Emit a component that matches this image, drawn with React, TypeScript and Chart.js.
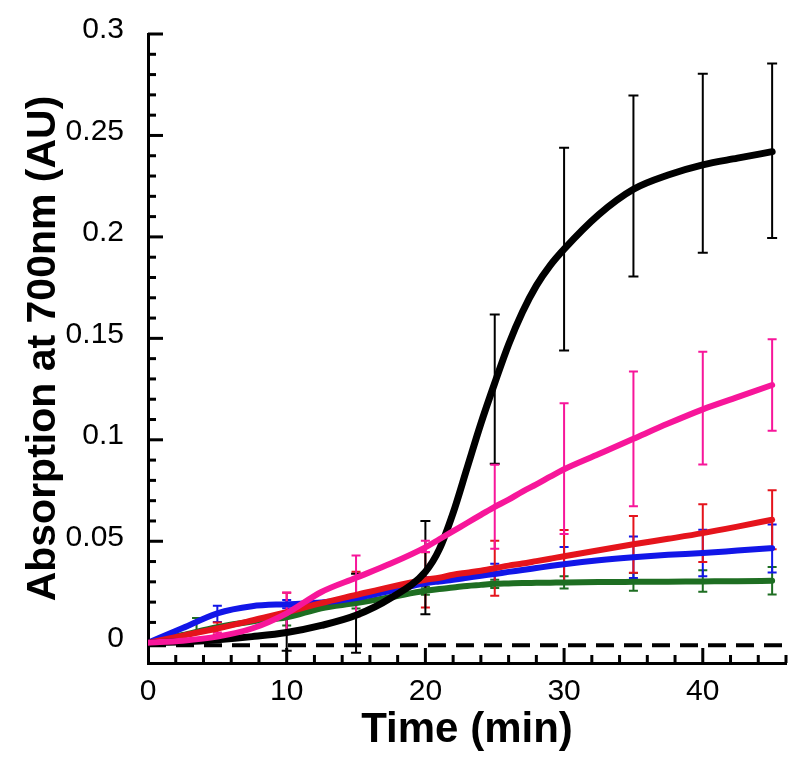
import React, { useEffect, useRef } from 'react';
import { Chart, registerables } from 'chart.js';

Chart.register(...registerables);

// ---- fitted curves ----
const fitTimes = [0, 2.5, 5, 7.5, 10, 12.5, 15, 17.5, 20, 21, 22, 23, 24, 25, 26, 27, 28, 29, 30, 32.5, 35, 37.5, 40, 42.5, 45];
const blackFit = [0, 0.0005, 0.0015, 0.003, 0.005, 0.0085, 0.0135, 0.022, 0.035, 0.046, 0.064, 0.086, 0.108, 0.128, 0.147, 0.163, 0.176, 0.186, 0.194, 0.211, 0.2235, 0.2305, 0.2355, 0.2388, 0.242];
const pinkFit = [0, 0.001, 0.003, 0.007, 0.0145, 0.025, 0.032, 0.039, 0.047, 0.051, 0.055, 0.059, 0.063, 0.067, 0.0705, 0.0745, 0.078, 0.0818, 0.0855, 0.093, 0.1005, 0.108, 0.115, 0.121, 0.127];
const redFit = [0, 0.0035, 0.007, 0.011, 0.015, 0.0195, 0.0235, 0.0275, 0.031, 0.032, 0.0335, 0.0345, 0.0355, 0.0367, 0.038, 0.039, 0.0402, 0.0414, 0.0426, 0.0456, 0.0485, 0.0512, 0.054, 0.0572, 0.0606];
const blueFit = [0, 0.0072, 0.0145, 0.018, 0.019, 0.0198, 0.022, 0.0256, 0.0293, 0.0302, 0.031, 0.032, 0.033, 0.0339, 0.0349, 0.0358, 0.0368, 0.0378, 0.0387, 0.0406, 0.0421, 0.0433, 0.0442, 0.0454, 0.0466];
const greenFit = [0, 0.0038, 0.0077, 0.0105, 0.0125, 0.017, 0.0195, 0.0225, 0.0256, 0.0265, 0.0272, 0.028, 0.0285, 0.029, 0.0292, 0.0294, 0.0295, 0.0296, 0.0297, 0.0299, 0.03, 0.0301, 0.0302, 0.0303, 0.0305];

// ---- measured points with error bars ----
const blackTimes = [10, 15, 20, 25, 30, 35, 40, 45];
const blackMeans = [0.005, 0.0145, 0.037, 0.125, 0.194, 0.2251, 0.2363, 0.2424];
const blackErrs = [0.009, 0.0195, 0.023, 0.0368, 0.05, 0.0446, 0.0441, 0.043];

const pinkTimes = [5, 10, 15, 20, 25, 30, 35, 40, 45];
const pinkMeans = [0.003, 0.015, 0.028, 0.0475, 0.067, 0.0858, 0.1005, 0.1156, 0.127];
const pinkErrs = [0.002, 0.0097, 0.015, 0.0028, 0.0207, 0.0322, 0.0332, 0.0278, 0.0225];

const redTimes = [5, 10, 15, 20, 25, 30, 35, 40, 45];
const redMeans = [0.007, 0.015, 0.024, 0.031, 0.0367, 0.0426, 0.0485, 0.054, 0.0606];
const redErrs = [0.003, 0.0096, 0.011, 0.0136, 0.0135, 0.013, 0.014, 0.0142, 0.0145];

const blueTimes = [5, 10, 15, 20, 25, 30, 35, 40, 45];
const blueMeans = [0.0142, 0.019, 0.022, 0.0293, 0.0339, 0.0387, 0.0421, 0.0442, 0.0464];
const blueErrs = [0.004, 0.002, 0.002, 0.003, 0.005, 0.0085, 0.0102, 0.0115, 0.0118];

const greenTimes = [3.5, 10, 15, 20, 25, 30, 35, 40, 45];
const greenMeans = [0.0087, 0.0115, 0.0195, 0.0256, 0.029, 0.0297, 0.03, 0.0304, 0.0305];
const greenErrs = [0.0035, 0.003, 0.0027, 0.002, 0.002, 0.003, 0.0044, 0.0053, 0.0068];

// ---- baseline and axis ticks ----
const baselineTimes = [0, 46];
const baselineValues = [-0.0012, -0.0012];
const xTickLabels = [0, 10, 20, 30, 40];
const yTickLabels = [0, 0.05, 0.1, 0.15, 0.2, 0.25, 0.3];

const BLACK = '#000000';
const PINK = '#f7169a';
const RED = '#e5141c';
const BLUE = '#1216e8';
const GREEN = '#1e6e22';
const FONT = '"Liberation Sans", Arial, Helvetica, sans-serif';

const toPoints = (xs: number[], ys: number[]) => xs.map((x, i) => ({ x, y: ys[i] }));

const errorSeries = [
  { color: GREEN, times: greenTimes, means: greenMeans, errs: greenErrs, width: 2, cap: 4.5 },
  { color: BLUE, times: blueTimes, means: blueMeans, errs: blueErrs, width: 2, cap: 4.5 },
  { color: RED, times: redTimes, means: redMeans, errs: redErrs, width: 2, cap: 4.5 },
  { color: BLACK, times: blackTimes, means: blackMeans, errs: blackErrs, width: 2, cap: 5 },
  { color: PINK, times: pinkTimes, means: pinkMeans, errs: pinkErrs, width: 2, cap: 4.5 },
];

const errorBarPlugin = {
  id: 'errorBars',
  beforeDatasetsDraw(chart: any) {
    const ctx = chart.ctx;
    const x = chart.scales.x;
    const y = chart.scales.y;
    ctx.save();
    for (const s of errorSeries) {
      ctx.strokeStyle = s.color;
      ctx.lineWidth = s.width;
      s.times.forEach((t: number, i: number) => {
        const px = x.getPixelForValue(t);
        const top = y.getPixelForValue(s.means[i] + s.errs[i]);
        const bot = y.getPixelForValue(s.means[i] - s.errs[i]);
        ctx.beginPath();
        ctx.moveTo(px, top);
        ctx.lineTo(px, bot);
        ctx.moveTo(px - s.cap, top);
        ctx.lineTo(px + s.cap, top);
        ctx.moveTo(px - s.cap, bot);
        ctx.lineTo(px + s.cap, bot);
        ctx.stroke();
      });
    }
    ctx.restore();
  },
};

const innerTicksPlugin = {
  id: 'innerTicks',
  afterDraw(chart: any) {
    const ctx = chart.ctx;
    const area = chart.chartArea;
    const x = chart.scales.x;
    const y = chart.scales.y;
    ctx.save();
    ctx.fillStyle = '#000000';
    const xs: number[] = [];
    for (let v = 2; v <= 46; v += 2) xs.push(v);
    xs.forEach((v) => {
      const px = x.getPixelForValue(v);
      const major = xTickLabels.indexOf(v) >= 0;
      const len = major ? 15 : 8;
      ctx.fillRect(px - 1.5, area.bottom - len, 3, len);
    });
    for (let k = 1; k <= 30; k++) {
      const v = k / 100;
      const py = y.getPixelForValue(v);
      const major = k % 5 === 0;
      const len = major ? 15 : 8;
      ctx.fillRect(area.left, py - 1.5, len, 3);
    }
    ctx.restore();
  },
};

export default function App() {
  const canvasRef = useRef<HTMLCanvasElement | null>(null);

  useEffect(() => {
    if (!canvasRef.current) return;
    const curve = (data: number[], color: string, width: number) => ({
      data: toPoints(fitTimes, data),
      borderColor: color,
      backgroundColor: color,
      borderWidth: width,
      pointRadius: 0,
      fill: false,
      cubicInterpolationMode: 'monotone' as const,
      borderCapStyle: 'round' as const,
    });
    const chart = new Chart(canvasRef.current, {
      type: 'line',
      data: {
        datasets: [
          curve(pinkFit, PINK, 6),
          curve(blackFit, BLACK, 7),
          curve(redFit, RED, 6),
          curve(blueFit, BLUE, 6),
          curve(greenFit, GREEN, 6),
          {
            data: toPoints(baselineTimes, baselineValues),
            borderColor: BLACK,
            borderWidth: 4,
            borderDash: [18, 10],
            pointRadius: 0,
            fill: false,
          },
        ],
      },
      options: {
        animation: false,
        responsive: false,
        maintainAspectRatio: false,
        devicePixelRatio: 1,
        layout: { padding: { top: 28, right: 14, bottom: 0, left: 0 } },
        plugins: {
          legend: { display: false },
          tooltip: { enabled: false },
        },
        scales: {
          x: {
            type: 'linear',
            min: 0,
            max: 46,
            grid: { display: false },
            border: { display: true, color: '#000', width: 3 },
            ticks: {
              stepSize: 2,
              autoSkip: false,
              maxRotation: 0,
              padding: 3,
              color: '#000',
              font: { family: FONT, size: 30 },
              callback: (v: any) => (xTickLabels.includes(Number(v)) ? String(v) : ''),
            },
            title: {
              display: true,
              text: 'Time (min)',
              color: '#000',
              font: { family: FONT, size: 42, weight: 'bold' },
              padding: { top: 0, bottom: 6 },
            },
            afterFit: (scale: any) => {
              scale.height = 99;
            },
          },
          y: {
            type: 'linear',
            min: -0.01,
            max: 0.3,
            grid: { display: false },
            border: { display: true, color: '#000', width: 3 },
            ticks: {
              stepSize: 0.01,
              autoSkip: false,
              padding: 16,
              labelOffset: -4,
              color: '#000',
              font: { family: FONT, size: 30 },
              callback: (v: any) => {
                const n = Number(v);
                const hit = yTickLabels.find((l) => Math.abs(l - n) < 1e-6);
                return hit === undefined ? '' : String(hit);
              },
            },
            title: {
              display: true,
              text: 'Absorption at 700nm (AU)',
              color: '#000',
              font: { family: FONT, size: 41, weight: 'bold' },
              padding: { top: 19, bottom: 0 },
            },
            afterFit: (scale: any) => {
              scale.width = 148;
            },
          },
        },
      },
      plugins: [errorBarPlugin, innerTicksPlugin],
    } as any);
    return () => chart.destroy();
  }, []);

  return (
    <div style={{ position: 'fixed', left: 0, top: 0, width: 800, height: 762, background: '#fff' }}>
      <canvas ref={canvasRef} width={800} height={762} style={{ display: 'block' }} />
    </div>
  );
}
